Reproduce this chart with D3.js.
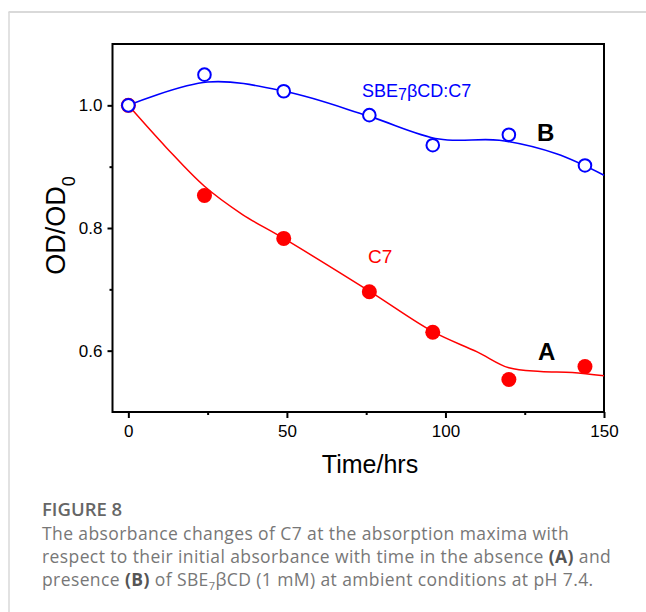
<!DOCTYPE html>
<html>
<head>
<meta charset="utf-8">
<script src="https://cdn.jsdelivr.net/npm/d3@7"></script>
<style>
  body { margin: 0; background: #fff; }
  svg { display: block; }
</style>
</head>
<body>
<div id="chart"></div>
<script>
// measured points (time in hrs, OD/OD0)
const times = [0, 24, 49, 76, 96, 120, 144];
const seriesA = [1.0, 0.853, 0.783, 0.696, 0.630, 0.553, 0.574];   // C7
const seriesB = [1.0, 1.050, 1.023, 0.984, 0.935, 0.952, 0.902];   // SBE7bCD:C7

// fitted curves
const fitTimesA = [0, 12, 24, 36, 49, 76, 96, 110, 120, 130, 140, 150];
const fitA = [1.0, 0.931, 0.868, 0.822, 0.783, 0.697, 0.631, 0.598, 0.572, 0.566, 0.5645, 0.559];
const fitTimesB = [0, 25, 50, 76, 98, 117, 135, 150];
const fitB = [1.0, 1.038, 1.022, 0.982, 0.945, 0.943, 0.921, 0.886];

const xTicks = [0, 50, 100, 150];
const xMinor = [25, 75, 125];
const yTicks = [0.6, 0.8, 1.0];
const yMinor = [0.7, 0.9];

// caption pieces: [text, style]
const captionLines = [
  [["The absorbance changes of C7 at the absorption maxima with", ""]],
  [["respect to their initial absorbance with time in the absence ", ""], ["(A)", "b"], [" and", ""]],
  [["presence ", ""], ["(B)", "b"], [" of SBE", ""], ["7", "sub"], ["βCD (1 mM) at ambient conditions at pH 7.4.", "up"]]
];

const W = 646, H = 612;
const svg = d3.select("#chart").append("svg")
    .attr("width", W)
    .attr("height", H);

// card border (top and left edges)
svg.append("line").attr("x1", 8.5).attr("x2", W).attr("y1", 12).attr("y2", 12)
    .attr("stroke", "#d9d9d9").attr("stroke-width", 2);
svg.append("line").attr("x1", 9).attr("x2", 9).attr("y1", 12).attr("y2", H)
    .attr("stroke", "#d9d9d9").attr("stroke-width", 1.5);

const x = d3.scaleLinear().domain([-5, 150]).range([112.5, 604]);
const y = d3.scaleLinear().domain([0.5, 1.1]).range([412, 44]);

const font = "'Liberation Sans', Arial, sans-serif";
const g = svg.append("g").style("font-family", font);

// axes
g.append("g")
    .attr("transform", `translate(0,${y.range()[0]})`)
    .call(d3.axisBottom(x).tickValues(xTicks).tickSize(6).tickPadding(7).tickSizeOuter(0).tickFormat(d3.format("d")));
g.append("g")
    .attr("transform", `translate(0,${y.range()[0]})`)
    .call(d3.axisBottom(x).tickValues(xMinor).tickSize(3).tickSizeOuter(0).tickFormat(""));
g.append("g")
    .attr("transform", `translate(${x.range()[0]},0)`)
    .call(d3.axisLeft(y).tickValues(yTicks).tickSize(5).tickPadding(5).tickSizeOuter(0).tickFormat(d3.format(".1f")));
g.append("g")
    .attr("transform", `translate(${x.range()[0]},0)`)
    .call(d3.axisLeft(y).tickValues(yMinor).tickSize(3).tickSizeOuter(0).tickFormat(""));

g.selectAll(".domain").remove();
g.selectAll(".tick line").attr("stroke", "#000").attr("stroke-width", 2);
g.selectAll(".tick text").attr("fill", "#000").style("font-size", "17px").style("font-family", font);

// frame
g.append("rect")
    .attr("x", x.range()[0]).attr("y", y.range()[1])
    .attr("width", x.range()[1] - x.range()[0])
    .attr("height", y.range()[0] - y.range()[1])
    .attr("fill", "none").attr("stroke", "#000").attr("stroke-width", 2);

// fitted curves
const line = d3.line().x(d => x(d[0])).y(d => y(d[1])).curve(d3.curveCatmullRom.alpha(0.5));
g.append("path")
    .datum(fitTimesA.map((t, i) => [t, fitA[i]]))
    .attr("d", line).attr("fill", "none").attr("stroke", "#ff0000").attr("stroke-width", 1.5);
g.append("path")
    .datum(fitTimesB.map((t, i) => [t, fitB[i]]))
    .attr("d", line).attr("fill", "none").attr("stroke", "#0000ff").attr("stroke-width", 1.6);

// points
g.selectAll(".ptA").data(times.map((t, i) => [t, seriesA[i]]))
    .enter().append("circle")
    .attr("class", "ptA")
    .attr("cx", d => x(d[0])).attr("cy", d => y(d[1]))
    .attr("r", 7.5).attr("fill", "#ff0000");
g.selectAll(".ptB").data(times.map((t, i) => [t, seriesB[i]]))
    .enter().append("circle")
    .attr("class", "ptB")
    .attr("cx", d => x(d[0])).attr("cy", d => y(d[1]))
    .attr("r", 6.3).attr("fill", "#fff").attr("stroke", "#0000ff").attr("stroke-width", 2);

// labels inside plot
const lblB = g.append("text").attr("x", 362).attr("y", 97)
    .attr("fill", "#0000ff").style("font-size", "18px");
lblB.append("tspan").text("SBE");
lblB.append("tspan").attr("dy", 3).style("font-size", "16px").text("7");
lblB.append("tspan").attr("dy", -3).text("βCD:C7");

g.append("text").attr("x", 368).attr("y", 263)
    .attr("fill", "#ff0000").style("font-size", "19px").text("C7");

g.append("text").attr("x", 537).attr("y", 141)
    .style("font-size", "24px").style("font-weight", "bold").text("B");
g.append("text").attr("x", 538).attr("y", 360)
    .style("font-size", "24px").style("font-weight", "bold").text("A");

// axis titles
g.append("text")
    .attr("x", 370).attr("y", 473)
    .attr("text-anchor", "middle")
    .style("font-size", "25px")
    .text("Time/hrs");

const yTitle = g.append("text")
    .attr("transform", "rotate(-90)")
    .attr("x", -225.5).attr("y", 65)
    .attr("text-anchor", "middle")
    .style("font-size", "27px");
yTitle.append("tspan").text("OD/OD");
yTitle.append("tspan").attr("dy", 10).style("font-size", "18px").text("0");

// caption
const cap = svg.append("g").style("font-family", "'Open Sans', sans-serif");
cap.append("text").attr("x", 42).attr("y", 516)
    .attr("fill", "#666").style("font-size", "18.5px").style("font-weight", 600)
    .text("FIGURE 8");

captionLines.forEach((parts, i) => {
    const t = cap.append("text")
        .attr("x", 42).attr("y", 540 + i * 23)
        .attr("fill", "#777").style("font-size", "17.5px")
        .style("letter-spacing", "0.4px");
    parts.forEach(([s, kind]) => {
        const sp = t.append("tspan").text(s);
        if (kind === "b") sp.attr("fill", "#555").style("font-weight", 700);
        if (kind === "sub") sp.attr("dy", 4).style("font-size", "11px");
        if (kind === "up") sp.attr("dy", -4);
    });
});
</script>
</body>
</html>
